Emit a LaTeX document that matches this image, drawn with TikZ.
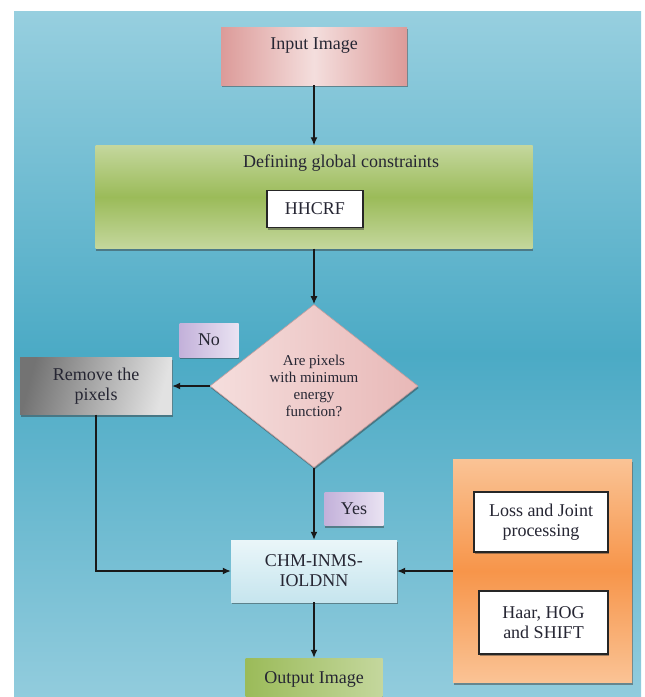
\documentclass[tikz,border=0pt]{standalone}
\usepackage{fontspec}
\setmainfont{Liberation Serif}
\usetikzlibrary{shapes.geometric,shadows,arrows.meta}
\definecolor{bgtop}{HTML}{97CFDF}
\definecolor{bgmid}{HTML}{4BAAC5}
\definecolor{bgbot}{HTML}{92CCDD}
\definecolor{pinkA}{HTML}{DC9B99}
\definecolor{pinkB}{HTML}{F4DEDD}
\definecolor{greenA}{HTML}{C4D79D}
\definecolor{greenB}{HTML}{9BBB59}
\definecolor{diaA}{HTML}{F5DEDD}
\definecolor{diaB}{HTML}{E8B8B7}
\definecolor{lavA}{HTML}{C3B1DA}
\definecolor{lavB}{HTML}{EAE3F2}
\definecolor{grayA}{HTML}{737373}
\definecolor{grayB}{HTML}{E2E2E2}
\definecolor{cyanA}{HTML}{EAF6F9}
\definecolor{cyanB}{HTML}{C6E5EE}
\definecolor{orgA}{HTML}{FAC395}
\definecolor{orgB}{HTML}{F7954A}
\definecolor{txtc}{HTML}{262633}
\begin{document}
\begin{tikzpicture}[x=1pt,y=-1pt,
  txt/.style={font=\fontsize{18}{20}\selectfont, text=txtc, align=center},
  box/.style={rectangle, inner sep=0pt, txt},
  shad/.style={drop shadow={shadow xshift=0.8pt,shadow yshift=-2pt,opacity=0.45,fill=black!80}},
  whitebox/.style={box, fill=white, draw=black!85, line width=1.4pt, shad},
  conn/.style={line width=1.3pt, draw=black!90, -{Latex[length=8pt,width=7pt]}},
  ]
\useasboundingbox (0,0) rectangle (645,697);
\shade[top color=bgtop, bottom color=bgbot, middle color=bgmid] (14,11) rectangle (641,697);

% input
\node[box, minimum width=186, minimum height=58, shad, left color=pinkA, right color=pinkA, middle color=pinkB] (inp) at (314,56) {};
\node[txt] (inptxt) at (314,46) {Input Image};

% defining
\node[box, minimum width=437, minimum height=103, shad, top color=greenA, bottom color=greenA, middle color=greenB] (def) at (314,197) {};
\node[txt] (deftxt) at (341,163) {Defining global constraints};
\node[whitebox, minimum width=96, minimum height=37] (hh) at (315,209) {HHCRF};

% decision
\node[diamond, inner sep=0pt, minimum width=208, minimum height=163, shad, left color=diaA, right color=diaB, draw=diaB!85!black, line width=0.6pt,
      font=\fontsize{15}{17}\selectfont, text=txtc, align=center] (dia) at (314,386) {Are pixels\\with minimum\\energy\\function?};

% labels
\node[box, minimum width=59, minimum height=34, shad, left color=lavA, right color=lavB] (no) at (209,340) {No};
\node[box, minimum width=59, minimum height=33, shad, left color=lavA, right color=lavB] (yes) at (354,509) {Yes};

% remove
\node[box, minimum width=152, minimum height=57, shad, left color=grayA, right color=grayB, shading angle=75] (rem) at (96,386) {Remove the\\pixels};

% CHM
\node[box, minimum width=166, minimum height=62, shad, top color=cyanA, bottom color=cyanB] (chm) at (314,571) {CHM-INMS-\\IOLDNN};

% output
\node[box, minimum width=137, minimum height=42, shad, left color=greenB, right color=greenA] (out) at (314,679) {Output Image};

% orange panel
\node[box, minimum width=179, minimum height=223, shad, top color=orgA, bottom color=orgA, middle color=orgB] (org) at (542.5,571) {};
\node[whitebox, minimum width=134, minimum height=60] (loss) at (541,522) {Loss and Joint\\processing};
\node[whitebox, minimum width=129, minimum height=63] (haar) at (543.5,622.5) {Haar, HOG\\and SHIFT};

% connectors
\draw[conn] (inp.south) -- (def.north);
\draw[conn] (def.south) -- (dia.north);
\draw[conn] (dia.west) -- (rem.east);
\draw[conn] (dia.south) -- (chm.north);
\draw[conn] (rem.south) |- (chm.west);
\draw[conn] (org.west) -- (chm.east);
\draw[conn] (chm.south) -- (out.north);
\end{tikzpicture}
\end{document}
